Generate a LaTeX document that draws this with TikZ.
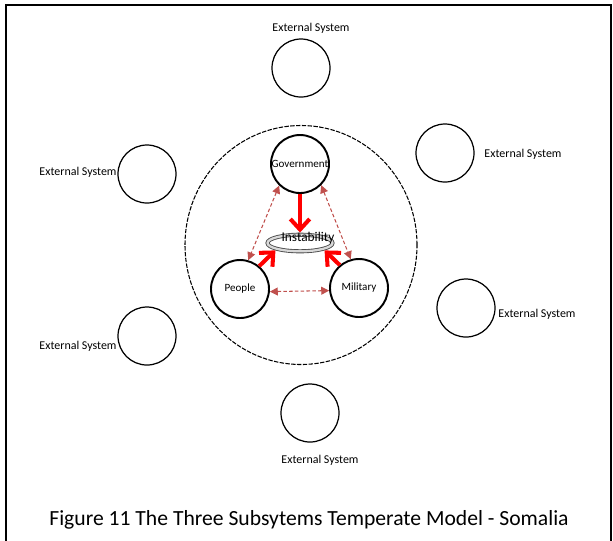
\documentclass[tikz,border=0pt]{standalone}
\usepackage{fontspec}
\setmainfont{Carlito}
\usetikzlibrary{arrows.meta,shapes.geometric}
\definecolor{rust}{RGB}{192,80,77}
\definecolor{hotred}{RGB}{255,0,0}
\tikzset{
  >={Triangle[length=4.5pt,width=4.5pt]},
  sys/.style={circle,draw,line width=1.1pt,minimum size=11.6mm,inner sep=0pt,
    font=\fontsize{6.3}{7}\selectfont},
  ext/.style={circle,draw,line width=0.7pt,minimum size=11.6mm},
  tag/.style={font=\fontsize{6.8}{8}\selectfont},
  link/.style={<->,rust,line width=0.6pt,dash pattern=on 2pt off 1.3pt},
  push/.style={-{Straight Barb[length=6pt,width=11pt]},hotred,line width=2.3pt},
}
\begin{document}
\begin{tikzpicture}[x=0.2mm,y=-0.2mm]
  \useasboundingbox (0,0) rectangle (613,540);
  \draw[line width=1.2pt] (6,541) -- (6,5) -- (611,5) -- (611,541);
  % surrounding systems
  \foreach \n/\x/\y/\lx/\ly in {1/301/68/311/28, 2/147/174/78/172, 3/445/153/523/154,
      4/466/308/537/314, 5/147/336/78/346, 6/310/413/320/460}{
    \node[ext] (e\n) at (\x,\y) {};
    \node[tag] (t\n) at (\lx,\ly) {External System};
  }
  % the state
  \node[ellipse,draw,line width=0.6pt,dash pattern=on 2.5pt off 0.8pt,inner sep=0pt,
    minimum width=46.4mm,minimum height=47.8mm] (env) at (301,245) {};
  \node[sys] (gov) at (300,164) {Government};
  \node[sys] (ppl) at (240,289) {People};
  \node[sys] (mil) at (359,288) {Military};
  \node[ellipse,draw=gray!60!black,double=gray!30,double distance=1.3pt,line width=0.5pt,
    minimum width=13mm,minimum height=3.2mm] (inst) at (300,243) {};
  \node[font=\fontsize{7.6}{9}\selectfont] (itxt) at (308,238) {Instability};
  \draw[link] (gov.226) -- (ppl.74);
  \draw[link] (gov.-45) -- (mil.106);
  \draw[link] (ppl.-5) -- (mil.185);
  \draw[push,shorten >=1pt] (gov.south) -- (inst.north);
  \draw[push,shorten >=1pt] (ppl.50) -- (inst.south west);
  \draw[push,shorten >=1pt] (mil.130) -- (inst.south east);
  \node[font=\fontsize{12.3}{14}\selectfont] (cap) at (309,520) {Figure 11 The Three Subsytems Temperate Model - Somalia};
\end{tikzpicture}
\end{document}
